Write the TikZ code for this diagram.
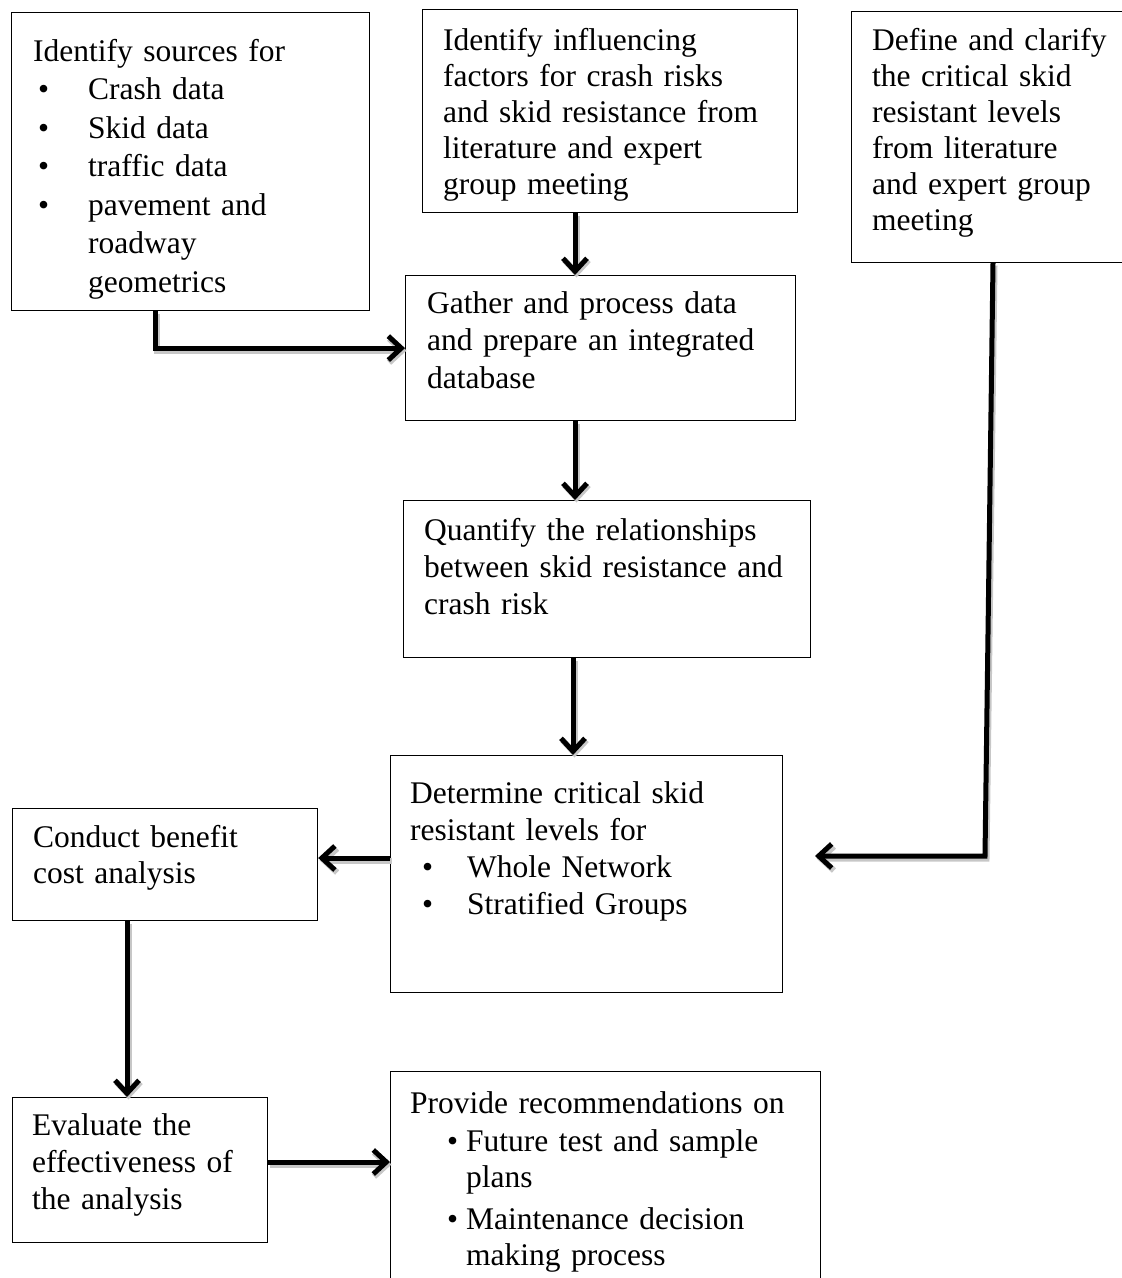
\documentclass[tikz,border=0pt]{standalone}
\usepackage{fontspec}
\setmainfont{Liberation Serif}
\usetikzlibrary{arrows.meta}
\tikzset{>={Straight Barb[length=13pt,width=24pt]}}

\begin{document}
\begin{tikzpicture}[x=1pt,y=-1pt,
	box/.style={draw,line width=1.2pt,anchor=north west,inner sep=0pt},
	txt/.style={anchor=base west,inner sep=0pt,text width=430pt,align=left},
	fs/.style={font=\fontsize{31.5}{#1}\selectfont},
	flow/.style={line width=5pt,->,preaction={draw=black!22,line width=6pt,transform canvas={xshift=1.5pt,yshift=-2.5pt}}}]
\useasboundingbox (0,0) rectangle (1122,1278);

	% boxes
	\node[box,minimum width=358pt,minimum height=298pt] (sources) at (11,12) {};
	\node[box,minimum width=375pt,minimum height=203pt] (factors) at (422,9) {};
	\node[box,minimum width=275pt,minimum height=251pt] (levels) at (851,11) {};
	\node[box,minimum width=390pt,minimum height=145pt] (gather) at (405,275) {};
	\node[box,minimum width=407pt,minimum height=157pt] (quantify) at (403,500) {};
	\node[box,minimum width=392pt,minimum height=237pt] (determine) at (390,755) {};
	\node[box,minimum width=305pt,minimum height=112pt] (conduct) at (12,808) {};
	\node[box,minimum width=255pt,minimum height=145pt] (evaluate) at (12,1097) {};
	\node[box,minimum width=430pt,minimum height=220pt] (provide) at (390,1071) {};

	% texts
	\node[txt,fs=38.5] (sourcestext) at (33,61) {Identify sources for\\
		\hspace*{5pt}\makebox[50pt][l]{•}Crash data\\
		\hspace*{5pt}\makebox[50pt][l]{•}Skid data\\
		\hspace*{5pt}\makebox[50pt][l]{•}traffic data\\
		\hspace*{5pt}\makebox[50pt][l]{•}pavement and\\
		\hspace*{55pt}roadway\\
		\hspace*{55pt}geometrics};
	\node[txt,fs=36] (factorstext) at (443,50) {Identify influencing\\ factors for crash risks\\ and skid resistance from\\ literature and expert\\ group meeting};
	\node[txt,fs=36] (levelstext) at (872,50) {Define and clarify\\ the critical skid\\ resistant levels\\ from literature\\ and expert group\\ meeting};
	\node[txt,fs=37.5] (gathertext) at (427,313) {Gather and process data\\ and prepare an integrated\\ database};
	\node[txt,fs=37] (quantifytext) at (424,540) {Quantify the relationships\\ between skid resistance and\\ crash risk};
	\node[txt,fs=37] (determinetext) at (410,803) {Determine critical skid\\ resistant levels for\\
		\hspace*{12pt}\makebox[45pt][l]{•}Whole Network\\
		\hspace*{12pt}\makebox[45pt][l]{•}Stratified Groups};
	\node[txt,fs=36] (conducttext) at (33,847) {Conduct benefit\\ cost analysis};
	\node[txt,fs=37] (evaluatetext) at (32,1135) {Evaluate the\\ effectiveness of\\ the analysis};
	\node[txt,fs=36] (providetext) at (410,1113) {Provide recommendations on\\[2pt]
		\hspace*{37pt}\makebox[19pt][l]{•}Future test and sample\\
		\hspace*{56pt}plans\\[6pt]
		\hspace*{37pt}\makebox[19pt][l]{•}Maintenance decision\\
		\hspace*{56pt}making process};

	% connectors
	\coordinate (spine) at (575,0);
	\coordinate (drop) at (993,0);
	\coordinate (bend) at (985,856);
	\coordinate (stop) at (815,856);
	\coordinate (side) at (0,858);
	\coordinate (down) at (127,0);
	\coordinate (across) at (0,1162);
	\draw[flow] ([xshift=-35pt]sources.south) |- (gather.west);
	\draw[flow] (factors.south -| spine) -- (gather.north -| spine);
	\draw[flow] (gather.south -| spine) -- (quantify.north -| spine);
	\draw[flow] ([xshift=-2pt]quantify.south -| spine) -- ([xshift=-2pt]determine.north -| spine);
	\draw[flow] (levels.south -| drop) -- (bend) -- (stop);
	\draw[flow] (determine.west |- side) -- (conduct.east |- side);
	\draw[flow] (conduct.south -| down) -- (evaluate.north -| down);
	\draw[flow] (evaluate.east |- across) -- (provide.west |- across);
\end{tikzpicture}
\end{document}
